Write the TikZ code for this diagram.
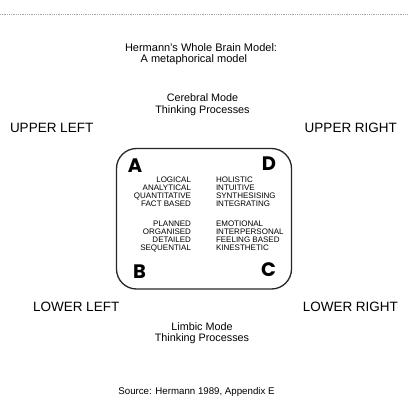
\documentclass[tikz,border=0pt]{standalone}
\usepackage{fontspec}
\setmainfont{Liberation Sans}
\newfontfamily\letterfont{Poppins}
\begin{document}
\begin{tikzpicture}[x=1pt,y=-1pt,
  every node/.style={inner sep=0pt, outer sep=0pt},
  title/.style={anchor=base west, font=\fontsize{11}{13}\selectfont},
  mode/.style={anchor=base, font=\fontsize{10.8}{13}\selectfont},
  corner/.style={font=\fontsize{13.5}{16}\selectfont},
  quad/.style={anchor=base, font=\letterfont\bfseries\fontsize{19.5}{22}\selectfont},
  lcol/.style={anchor=base east, font=\fontsize{8}{8}\selectfont},
  rcol/.style={anchor=base west, font=\fontsize{8}{8}\selectfont},
  brainbox/.style={draw=black!85, line width=1.3pt, rounded corners=20pt}
]
\useasboundingbox (0,0) rectangle (409,412);
% top dotted rule
\coordinate (ruleL) at (0,14);
\coordinate (ruleR) at (409,14);
\draw[gray!70, densely dotted, line width=0.8pt] (ruleL) -- (ruleR);
% titles
\node[title] (t1) at (125,51.5) {Hermann's Whole Brain Model:};
\node[title] (t2) at (140.7,62.3) {A metaphorical model};
\node[mode] (cer1) at (202.5,101.7) {Cerebral Mode};
\node[mode] (cer2) at (202.5,113.3) {Thinking Processes};
\node[mode] (lim1) at (202,330.7) {Limbic Mode};
\node[mode] (lim2) at (202,341.7) {Thinking Processes};
\node[anchor=base, font=\fontsize{9.7}{12}\selectfont] (src) at (196.5,394) {Source: Hermann 1989, Appendix E};
% corner labels
\node[corner, anchor=base west] (ul) at (10,132) {UPPER LEFT};
\node[corner, anchor=base east] (ur) at (397,132) {UPPER RIGHT};
\node[corner, anchor=base west] (ll) at (33,311.7) {LOWER LEFT};
\node[corner, anchor=base east] (lr) at (398,311.7) {LOWER RIGHT};
% box
\node[brainbox, minimum width=175pt, minimum height=140.5pt] (box) at (204,218.75) {};
% quadrant letters
\node[quad] (qa) at (135,172) {A};
\node[quad] (qd) at (269,170) {D};
\node[quad] (qb) at (139.5,278) {B};
\node[quad] (qc) at (268.5,276) {C};
% left column
\node[lcol] (a1) at (191,182.5) {LOGICAL};
\node[lcol] (a2) at (191,190.5) {ANALYTICAL};
\node[lcol] (a3) at (191,198.5) {QUANTITATIVE};
\node[lcol] (a4) at (191,206.5) {FACT BASED};
\node[lcol] (b1) at (191,226.5) {PLANNED};
\node[lcol] (b2) at (191,234.5) {ORGANISED};
\node[lcol] (b3) at (191,242.5) {DETAILED};
\node[lcol] (b4) at (191,250.5) {SEQUENTIAL};
% right column
\node[rcol] (d1) at (216,182.5) {HOLISTIC};
\node[rcol] (d2) at (216,190.5) {INTUITIVE};
\node[rcol] (d3) at (216,198.5) {SYNTHESISING};
\node[rcol] (d4) at (216,206.5) {INTEGRATING};
\node[rcol] (c1) at (216,226.5) {EMOTIONAL};
\node[rcol] (c2) at (216,234.5) {INTERPERSONAL};
\node[rcol] (c3) at (216,242.5) {FEELING BASED};
\node[rcol] (c4) at (216,250.5) {KINESTHETIC};
\end{tikzpicture}
\end{document}
